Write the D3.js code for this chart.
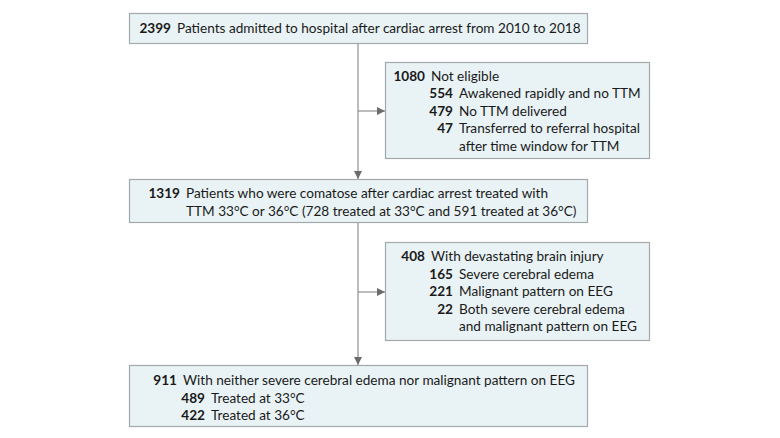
<!DOCTYPE html>
<html>
<head>
<meta charset="utf-8">
<script src="https://cdn.jsdelivr.net/npm/d3@7"></script>
<style>
  body { margin: 0; background: #fff; }
  svg text { font-family: Lato, "Noto Sans", sans-serif; font-size: 13.6px; fill: #1a1a1a; }
</style>
</head>
<body>
<div id="flow"></div>
<script>
// flow counts, one array per box: [count, label, indent]
const admitted = [[2399, 'Patients admitted to hospital after cardiac arrest from 2010 to 2018', 0]];
const notEligible = [
  [1080, 'Not eligible', 0],
  [554, 'Awakened rapidly and no TTM', 1],
  [479, 'No TTM delivered', 1],
  [47, 'Transferred to referral hospital', 1],
  [null, 'after time window for TTM', 1]
];
const comatose = [
  [1319, 'Patients who were comatose after cardiac arrest treated with', 0],
  [null, 'TTM 33°C or 36°C (728 treated at 33°C and 591 treated at 36°C)', 0]
];
const brainInjury = [
  [408, 'With devastating brain injury', 0],
  [165, 'Severe cerebral edema', 1],
  [221, 'Malignant pattern on EEG', 1],
  [22, 'Both severe cerebral edema', 1],
  [null, 'and malignant pattern on EEG', 1]
];
const included = [
  [911, 'With neither severe cerebral edema nor malignant pattern on EEG', 0],
  [489, 'Treated at 33°C', 1],
  [422, 'Treated at 36°C', 1]
];

(function() {
  const width = 780, height = 438;
  const mainX = 129, mainW = 458, sideX = 385, sideW = 264;
  const spine = 358;

  const boxes = [
    {rows: admitted, x: mainX, y: 13, w: mainW, h: 30, numEnd: 171, first: 20},
    {rows: notEligible, x: sideX, y: 62, w: sideW, h: 96, numEnd: 425, first: 18.5},
    {rows: comatose, x: mainX, y: 179, w: mainW, h: 43, numEnd: 180, first: 19},
    {rows: brainInjury, x: sideX, y: 242, w: sideW, h: 98, numEnd: 425, first: 19},
    {rows: included, x: mainX, y: 365, w: mainW, h: 61, numEnd: 177, first: 20}
  ];
  const indent = 28, gap = 6, lineH = 17.6;

  const svg = d3.select('#flow')
    .append('svg')
    .attr('width', width)
    .attr('height', height);

  svg.append('defs').append('marker')
    .attr('id', 'arr')
    .attr('viewBox', '0 0 10 10')
    .attr('refX', 10).attr('refY', 5)
    .attr('markerWidth', 8).attr('markerHeight', 8)
    .attr('markerUnits', 'userSpaceOnUse')
    .attr('orient', 'auto')
    .append('path')
    .attr('d', 'M0,0L10,5L0,10z')
    .attr('fill', '#6b6b6b');

  const b = boxes;
  const links = [
    [[spine, b[0].y + b[0].h], [spine, b[2].y]],
    [[spine, 111], [sideX, 111]],
    [[spine, b[2].y + b[2].h], [spine, b[4].y]],
    [[spine, 292], [sideX, 292]]
  ];
  svg.selectAll('line.link')
    .data(links)
    .enter().append('line')
    .attr('class', 'link')
    .attr('x1', d => d[0][0]).attr('y1', d => d[0][1])
    .attr('x2', d => d[1][0]).attr('y2', d => d[1][1])
    .attr('stroke', '#7a7a7a')
    .attr('stroke-width', 1)
    .attr('marker-end', 'url(#arr)');

  const g = svg.selectAll('g.box')
    .data(boxes)
    .enter().append('g')
    .attr('class', 'box');

  g.append('rect')
    .attr('x', d => d.x + 0.5).attr('y', d => d.y + 0.5)
    .attr('width', d => d.w).attr('height', d => d.h)
    .attr('fill', '#e9f3f5')
    .attr('stroke', '#a3a9ab')
    .attr('stroke-width', 1.2);

  g.each(function(box) {
    const sel = d3.select(this);
    box.rows.forEach((r, i) => {
      const y = box.y + box.first + i * lineH;
      const end = box.numEnd + r[2] * indent;
      if (r[0] !== null) {
        sel.append('text')
          .attr('x', end).attr('y', y)
          .attr('text-anchor', 'end')
          .style('font-weight', 'bold')
          .text(r[0]);
      }
      sel.append('text')
        .attr('x', end + gap).attr('y', y)
        .text(r[1]);
    });
  });
})();
</script>
</body>
</html>
